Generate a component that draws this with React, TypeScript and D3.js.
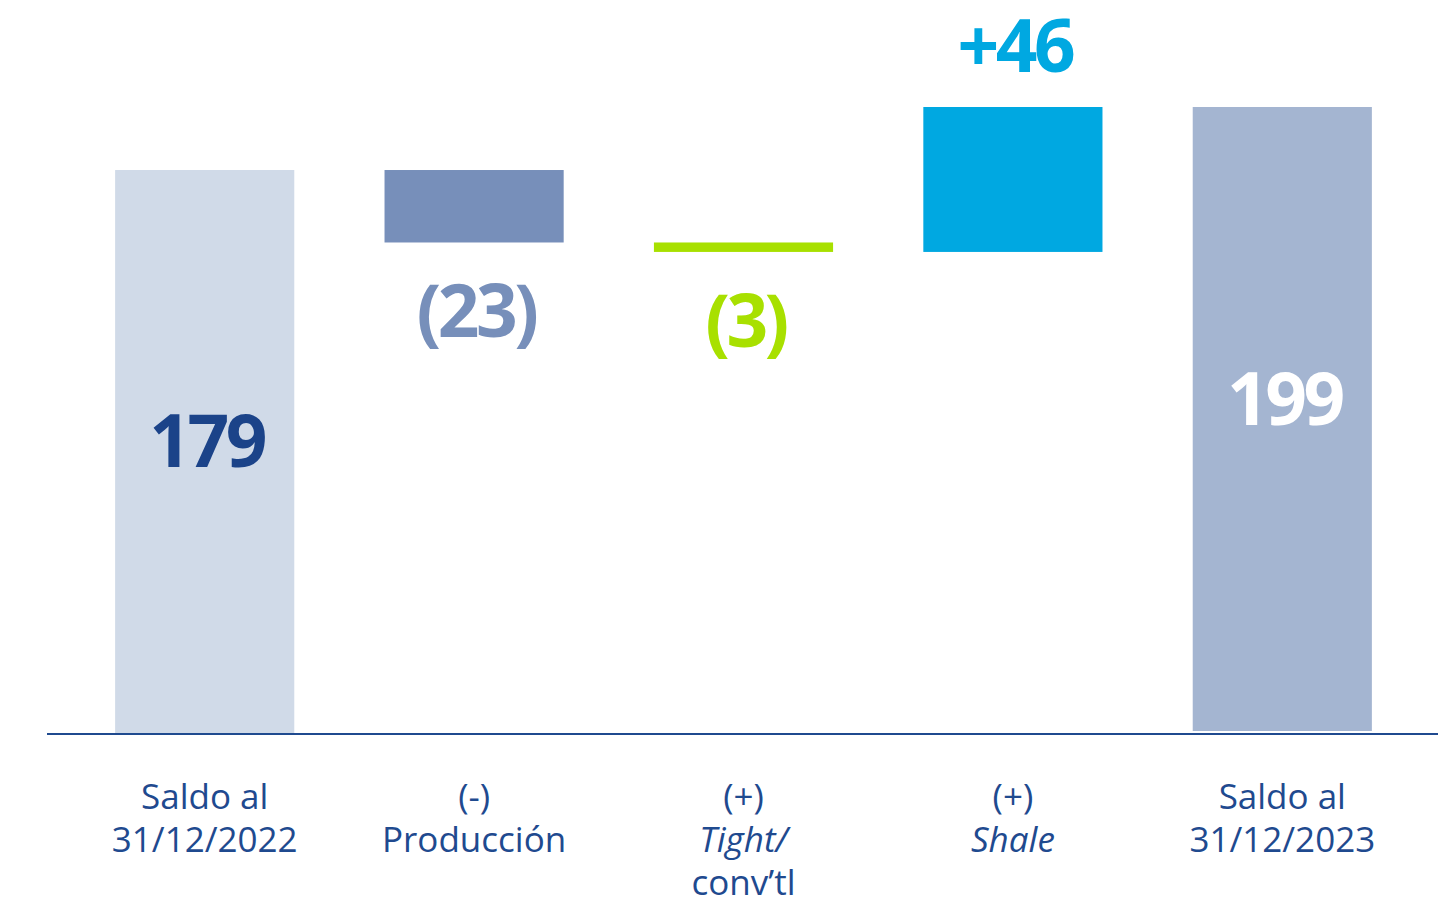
import React from "react";
import * as d3 from "d3";

const categories = ["saldo2022", "produccion", "tight", "shale", "saldo2023"];
const categoryLines: { text: string; italic?: boolean }[][] = [
  [{ text: "Saldo al" }, { text: "31/12/2022" }],
  [{ text: "(-)" }, { text: "Producción" }],
  [{ text: "(+)" }, { text: "Tight/", italic: true }, { text: "conv’tl" }],
  [{ text: "(+)" }, { text: "Shale", italic: true }],
  [{ text: "Saldo al" }, { text: "31/12/2023" }],
];
const kinds = ["total", "delta", "delta", "delta", "total"];
const values = [179, -23, -3, 46, 199];
const valueLabels = ["179", "(23)", "(3)", "+46", "199"];
const barColors = ["#d0dae8", "#778fba", "#a8e000", "#00a8e1", "#a4b5d1"];
const labelColors = ["#1b4389", "#778fba", "#a8e000", "#00a8e1", "#ffffff"];

const W = 1454;
const H = 902;
const AXIS_Y = 734;
const FONT = "'Open Sans', 'Noto Sans', sans-serif";
const AXIS_COLOR = "#1f4a8f";

export default function App() {
  const x = d3
    .scaleBand<string>()
    .domain(categories)
    .range([70, 1417])
    .paddingInner(0.335)
    .paddingOuter(0.1675);
  const y = d3.scaleLinear().domain([0, 199]).range([AXIS_Y, 107]);

  let running = 0;
  const segs = values.map((v, i) => {
    let start: number, end: number;
    if (kinds[i] === "total") {
      start = 0;
      end = v;
      running = v;
    } else {
      start = running;
      end = running + v;
      running = end;
    }
    return { start, end, v, i };
  });

  const totalLabelOffsets = [297, 0, 0, 0, 318];

  return (
    <svg
      width={W}
      height={H}
      style={{ position: "absolute", left: 0, top: 0, display: "block", background: "#fff" }}
    >
      {segs.map((s) => {
        const cat = categories[s.i];
        const x0 = x(cat)!;
        const top = y(Math.max(s.start, s.end));
        const bottom = y(Math.min(s.start, s.end)) - (kinds[s.i] === "total" && s.i > 0 ? 3 : 0);
        return (
          <rect
            key={cat}
            x={x0}
            y={top}
            width={x.bandwidth()}
            height={bottom - top}
            fill={barColors[s.i]}
          />
        );
      })}
      <line x1={47} x2={1438} y1={AXIS_Y} y2={AXIS_Y} stroke={AXIS_COLOR} strokeWidth={2.2} />
      {segs.map((s) => {
        const cat = categories[s.i];
        const cx = x(cat)! + x.bandwidth() / 2 + 2;
        let ty: number;
        if (kinds[s.i] === "total") {
          ty = y(s.end) + totalLabelOffsets[s.i];
        } else if (s.v < 0) {
          ty = y(Math.min(s.start, s.end)) + 95;
        } else {
          ty = y(Math.max(s.start, s.end)) - 35;
        }
        return (
          <text
            key={"v" + cat}
            x={cx}
            y={ty}
            textAnchor="middle"
            fontFamily={FONT}
            fontWeight={700}
            fontSize={73}
            letterSpacing={-3.5}
            fill={labelColors[s.i]}
          >
            {valueLabels[s.i]}
          </text>
        );
      })}
      {categories.map((cat, i) => {
        const cx = x(cat)! + x.bandwidth() / 2;
        return (
          <text
            key={"c" + cat}
            textAnchor="middle"
            fontFamily={FONT}
            fontSize={35}
            fill={AXIS_COLOR}
          >
            {categoryLines[i].map((ln, j) => (
              <tspan
                key={j}
                x={cx}
                y={809 + j * 43}
                fontStyle={ln.italic ? "italic" : "normal"}
              >
                {ln.text}
              </tspan>
            ))}
          </text>
        );
      })}
    </svg>
  );
}
